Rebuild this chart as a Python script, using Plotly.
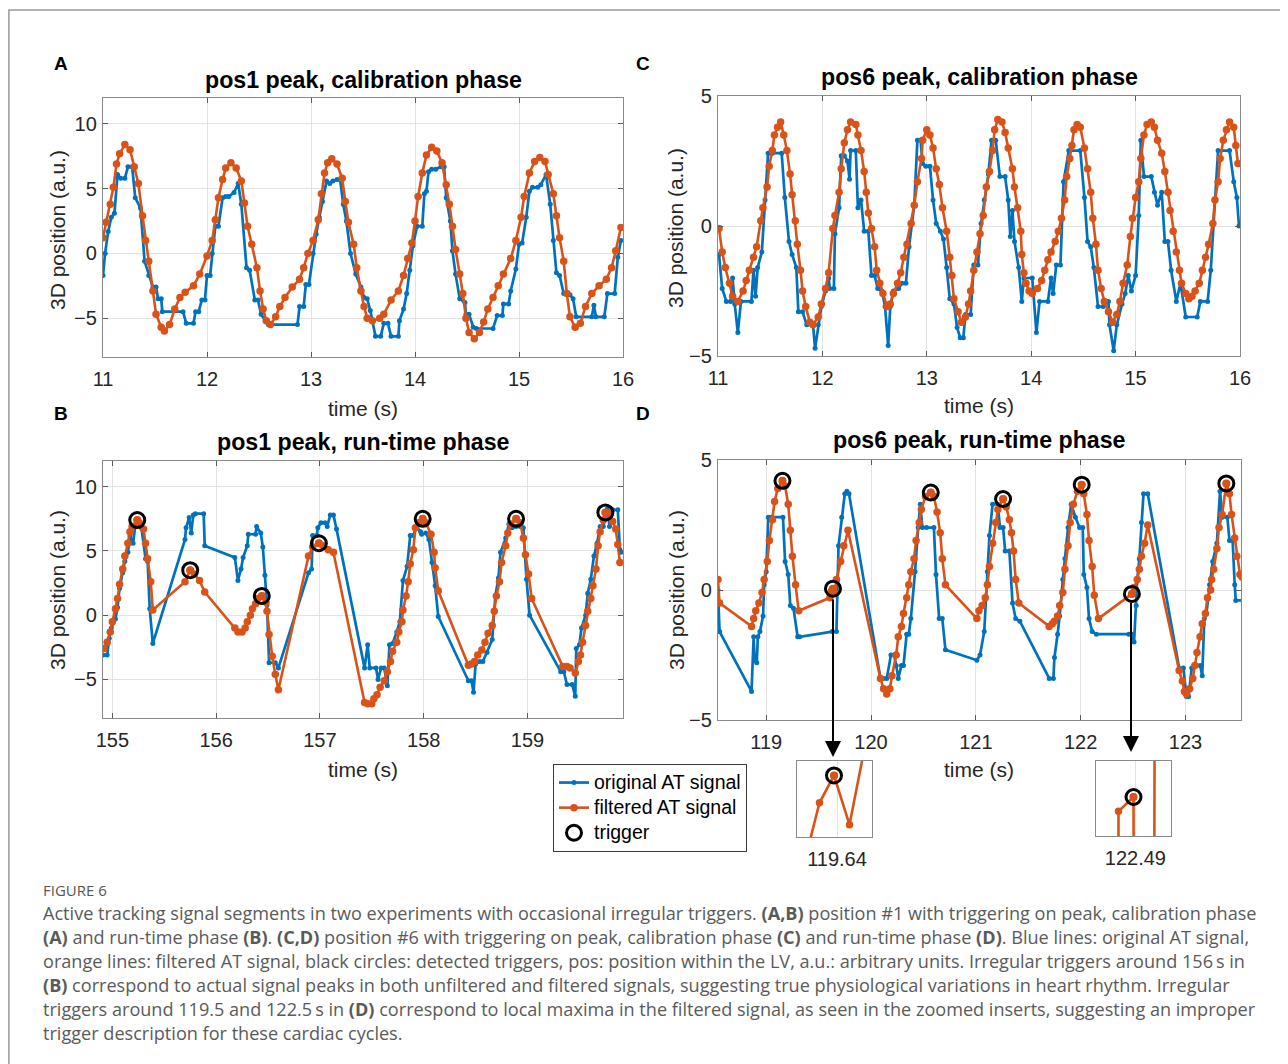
import plotly.graph_objects as go

W, H = 1288, 1064
OFF = 8  # the page adds an 8px body margin; positions below are reference pixels
BLUE = '#0072BD'
ORANGE = '#D95319'
FONT = 'Liberation Sans, Arial, sans-serif'
CAP_FONT = 'Open Sans, Lato, sans-serif'

# ---------------- DATA (time s, 3D position a.u.) ----------------
A_orig = [(11.00,-1.7),(11.02,0.0),(11.05,1.7),(11.08,2.8),(11.11,3.1),(11.14,6.1),(11.17,5.8),(11.21,5.8),(11.24,6.7),(11.28,6.7),(11.31,4.3),(11.36,3.5),(11.40,-0.6),(11.44,-1.7),(11.48,-2.6),(11.51,-2.6),(11.53,-3.5),(11.56,-3.5),(11.57,-4.5),(11.77,-4.5),(11.80,-5.4),(11.87,-5.4),(11.89,-4.5),(11.92,-4.5),(11.95,-3.6),(11.98,-3.6),(12.00,-1.7),(12.03,-1.7),(12.05,0.0),(12.08,2.1),(12.11,2.1),(12.15,4.3),(12.18,4.4),(12.21,4.4),(12.26,4.7),(12.30,5.4),(12.33,3.8),(12.38,-1.1),(12.41,-1.3),(12.46,-3.6),(12.49,-3.6),(12.52,-4.7),(12.56,-5.2),(12.59,-5.5),(12.87,-5.5),(12.89,-4.1),(12.93,-4.1),(12.95,-2.4),(12.98,-2.4),(13.02,0.0),(13.05,1.5),(13.08,2.8),(13.11,4.0),(13.15,5.6),(13.18,5.4),(13.21,5.6),(13.25,5.7),(13.28,5.7),(13.31,3.8),(13.34,2.5),(13.38,0.0),(13.43,-1.6),(13.48,-2.6),(13.51,-3.4),(13.54,-3.5),(13.57,-4.4),(13.62,-6.4),(13.67,-6.4),(13.70,-5.4),(13.74,-5.4),(13.77,-6.4),(13.84,-6.4),(13.85,-5.2),(13.89,-4.3),(13.92,-3.1),(13.95,-1.3),(13.98,0.6),(14.02,2.1),(14.07,2.1),(14.09,4.6),(14.11,4.8),(14.13,6.3),(14.16,6.5),(14.20,6.5),(14.25,6.7),(14.28,6.7),(14.30,4.3),(14.34,2.5),(14.36,0.2),(14.39,-1.6),(14.43,-3.5),(14.48,-3.8),(14.49,-4.7),(14.52,-4.7),(14.56,-5.7),(14.59,-5.8),(14.75,-5.8),(14.79,-4.8),(14.84,-4.8),(14.85,-3.9),(14.90,-3.9),(14.92,-2.9),(14.97,-1.2),(15.00,0.7),(15.03,0.8),(15.07,2.8),(15.10,4.8),(15.13,5.1),(15.18,5.1),(15.21,5.3),(15.26,6.1),(15.30,3.8),(15.33,1.0),(15.36,-1.5),(15.39,-1.7),(15.43,-3.1),(15.49,-3.2),(15.52,-3.5),(15.55,-4.9),(15.70,-4.9),(15.72,-4.0),(15.74,-4.9),(15.82,-4.9),(15.85,-3.1),(15.92,-3.1),(15.95,-0.3),(15.98,1.0)]

A_filt = [(11.00,1.2),(11.03,2.4),(11.07,3.8),(11.10,5.1),(11.13,6.9),(11.16,7.7),(11.21,8.4),(11.26,8.0),(11.30,6.7),(11.34,5.4),(11.38,2.9),(11.41,1.0),(11.44,-0.6),(11.48,-2.9),(11.51,-4.7),(11.56,-5.7),(11.59,-6.0),(11.64,-5.5),(11.69,-4.3),(11.74,-3.4),(11.79,-3.0),(11.87,-2.5),(11.93,-1.6),(12.00,-0.2),(12.05,1.0),(12.08,2.6),(12.11,4.3),(12.15,5.7),(12.18,6.6),(12.23,7.0),(12.28,6.6),(12.33,5.6),(12.36,3.9),(12.39,2.1),(12.43,0.7),(12.48,-1.1),(12.51,-2.9),(12.54,-4.3),(12.57,-5.2),(12.61,-5.5),(12.66,-4.9),(12.70,-4.1),(12.75,-3.4),(12.82,-2.6),(12.89,-2.0),(12.93,-1.1),(12.97,0.0),(13.02,1.0),(13.07,2.6),(13.10,4.6),(13.13,6.2),(13.16,7.0),(13.20,7.3),(13.25,6.9),(13.30,5.8),(13.33,4.0),(13.36,2.4),(13.41,0.7),(13.44,-1.1),(13.48,-2.9),(13.51,-4.1),(13.54,-5.0),(13.59,-5.2),(13.66,-5.0),(13.70,-4.7),(13.77,-3.6),(13.84,-2.9),(13.89,-1.7),(13.93,-0.4),(13.97,0.8),(14.00,2.5),(14.03,4.4),(14.07,6.2),(14.11,7.6),(14.16,8.2),(14.21,7.9),(14.26,7.0),(14.30,5.3),(14.33,3.8),(14.36,2.1),(14.39,0.3),(14.43,-1.6),(14.46,-3.1),(14.49,-5.0),(14.52,-6.1),(14.57,-6.6),(14.62,-6.1),(14.66,-5.3),(14.70,-4.3),(14.75,-3.4),(14.80,-2.5),(14.85,-1.6),(14.92,-0.4),(14.97,1.0),(15.02,2.8),(15.05,4.4),(15.10,6.2),(15.15,7.1),(15.20,7.4),(15.25,7.1),(15.28,6.1),(15.33,4.6),(15.36,2.9),(15.39,1.2),(15.43,-0.6),(15.46,-3.1),(15.49,-4.9),(15.54,-5.7),(15.59,-5.4),(15.64,-4.1),(15.70,-3.1),(15.77,-2.5),(15.84,-2.0),(15.89,-1.1),(15.93,0.2),(15.98,2.0)]

C_orig = [(11.01,-1.1),(11.04,-2.4),(11.08,-2.9),(11.12,-2.9),(11.14,-2.0),(11.16,-3.0),(11.19,-4.1),(11.22,-2.9),(11.32,-2.9),(11.34,-1.7),(11.36,-2.7),(11.38,-1.6),(11.42,-1.0),(11.45,1.0),(11.48,2.8),(11.52,2.8),(11.61,2.8),(11.64,1.1),(11.68,-0.6),(11.71,-1.1),(11.75,-1.6),(11.77,-3.3),(11.81,-3.3),(11.85,-3.8),(11.91,-3.8),(11.93,-4.7),(11.96,-3.8),(11.99,-3.1),(12.03,-2.5),(12.06,-2.0),(12.07,-2.4),(12.11,-2.4),(12.12,-0.3),(12.16,0.7),(12.18,2.7),(12.21,2.7),(12.24,2.5),(12.26,1.8),(12.27,2.9),(12.32,2.9),(12.34,0.7),(12.37,1.0),(12.40,-0.2),(12.44,-0.2),(12.47,-1.9),(12.50,-1.9),(12.53,-2.4),(12.57,-2.5),(12.60,-3.1),(12.63,-4.6),(12.65,-3.1),(12.68,-2.5),(12.73,-2.4),(12.76,-2.2),(12.80,-2.2),(12.83,-0.8),(12.88,0.8),(12.91,3.3),(12.94,3.3),(12.96,2.4),(12.99,2.3),(13.03,2.3),(13.06,1.0),(13.09,0.1),(13.13,-0.2),(13.16,-0.5),(13.19,-1.6),(13.22,-2.8),(13.26,-3.0),(13.29,-3.9),(13.32,-4.3),(13.35,-4.3),(13.37,-3.4),(13.42,-3.4),(13.45,-1.5),(13.49,-1.5),(13.52,0.1),(13.55,1.0),(13.59,2.0),(13.62,3.3),(13.66,3.3),(13.70,1.9),(13.75,1.9),(13.78,1.0),(13.80,-0.4),(13.82,0.6),(13.84,-0.6),(13.88,-1.6),(13.91,-2.9),(13.93,-2.0),(14.01,-2.0),(14.05,-4.1),(14.08,-2.9),(14.16,-2.9),(14.19,-2.0),(14.21,-2.6),(14.24,-1.5),(14.28,-1.5),(14.31,1.7),(14.36,2.9),(14.47,2.9),(14.51,1.1),(14.54,-0.6),(14.57,-0.8),(14.60,-1.6),(14.64,-3.1),(14.69,-3.1),(14.74,-2.9),(14.75,-3.8),(14.79,-4.8),(14.82,-3.8),(14.87,-3.0),(14.90,-2.6),(14.93,-1.9),(14.96,-2.5),(15.00,-1.9),(15.03,0.4),(15.05,3.3),(15.08,1.9),(15.15,1.9),(15.18,1.3),(15.21,0.8),(15.25,1.3),(15.28,-0.6),(15.31,-0.6),(15.34,-1.7),(15.39,-2.9),(15.43,-2.2),(15.48,-3.5),(15.59,-3.5),(15.62,-2.9),(15.69,-2.9),(15.72,-1.7),(15.76,1.0),(15.79,2.9),(15.90,2.9),(15.94,1.7),(15.97,1.1),(15.99,0.0)]

C_filt = [(11.01,-0.1),(11.04,-1.0),(11.07,-1.6),(11.11,-2.2),(11.14,-2.7),(11.19,-2.9),(11.24,-2.5),(11.27,-2.1),(11.30,-1.7),(11.34,-1.2),(11.37,-0.8),(11.41,0.2),(11.43,0.7),(11.47,1.5),(11.49,2.3),(11.52,2.9),(11.54,3.5),(11.57,3.8),(11.60,4.0),(11.63,3.5),(11.66,2.9),(11.69,2.0),(11.71,1.2),(11.74,0.2),(11.76,-0.7),(11.79,-1.7),(11.81,-2.5),(11.84,-3.1),(11.88,-3.7),(11.91,-3.8),(11.96,-3.5),(11.99,-3.0),(12.03,-2.4),(12.06,-1.8),(12.10,-0.1),(12.12,0.4),(12.16,1.3),(12.18,2.2),(12.21,3.2),(12.24,3.7),(12.27,4.0),(12.32,3.9),(12.34,3.5),(12.37,2.9),(12.40,2.1),(12.42,1.3),(12.44,0.5),(12.47,-0.1),(12.50,-0.8),(12.52,-1.7),(12.55,-2.2),(12.58,-2.6),(12.62,-3.1),(12.65,-3.0),(12.68,-2.6),(12.72,-2.2),(12.75,-1.8),(12.78,-1.2),(12.81,-0.7),(12.85,0.1),(12.88,0.8),(12.91,1.7),(12.95,2.6),(12.96,3.3),(13.00,3.7),(13.03,3.5),(13.06,3.0),(13.09,2.2),(13.12,1.6),(13.15,0.7),(13.19,-0.2),(13.22,-1.2),(13.24,-1.9),(13.26,-2.8),(13.30,-3.3),(13.33,-3.7),(13.37,-3.5),(13.40,-3.0),(13.42,-2.5),(13.45,-1.7),(13.48,-1.0),(13.51,-0.3),(13.54,0.4),(13.57,1.5),(13.60,2.1),(13.63,2.9),(13.65,3.7),(13.68,4.1),(13.72,4.0),(13.75,3.6),(13.78,3.0),(13.82,2.2),(13.84,1.5),(13.87,0.7),(13.90,-0.2),(13.91,-1.1),(13.93,-1.8),(13.95,-2.2),(13.98,-2.5),(14.01,-2.6),(14.06,-2.4),(14.10,-2.1),(14.13,-1.7),(14.16,-1.3),(14.19,-1.0),(14.23,-0.6),(14.26,-0.2),(14.29,0.3),(14.32,1.0),(14.34,1.9),(14.37,2.6),(14.39,3.1),(14.41,3.7),(14.44,3.9),(14.47,3.8),(14.51,3.0),(14.54,2.2),(14.57,1.3),(14.59,0.3),(14.62,-0.7),(14.64,-1.7),(14.67,-2.4),(14.70,-2.9),(14.74,-3.3),(14.78,-3.7),(14.82,-3.4),(14.85,-2.9),(14.88,-2.2),(14.92,-1.5),(14.95,-0.4),(14.97,0.3),(15.00,1.1),(15.03,1.7),(15.05,2.6),(15.08,3.5),(15.11,3.9),(15.15,4.0),(15.18,3.8),(15.21,3.3),(15.25,2.8),(15.28,2.1),(15.31,1.3),(15.33,0.6),(15.36,-0.2),(15.39,-1.0),(15.42,-1.7),(15.44,-2.2),(15.48,-2.6),(15.51,-2.8),(15.54,-2.7),(15.57,-2.5),(15.61,-2.2),(15.64,-1.7),(15.67,-1.2),(15.70,-0.7),(15.74,0.1),(15.76,1.0),(15.79,1.7),(15.81,2.6),(15.84,3.3),(15.87,3.7),(15.90,4.0),(15.94,3.8),(15.96,3.1),(15.98,2.4)]

B_orig = [(154.91,-3.1),(154.95,-3.1),(154.97,-1.8),(154.99,-1.0),(155.03,-0.3),(155.05,0.6),(155.07,2.1),(155.10,3.3),(155.12,4.2),(155.15,4.9),(155.17,6.2),(155.20,5.6),(155.22,6.9),(155.25,7.2),(155.28,6.8),(155.32,4.4),(155.34,4.2),(155.36,0.5),(155.39,-2.2),(155.70,5.9),(155.71,6.8),(155.74,7.6),(155.76,6.4),(155.78,7.8),(155.80,7.9),(155.88,7.9),(155.89,5.4),(156.18,4.5),(156.21,2.7),(156.24,3.6),(156.26,4.5),(156.30,5.4),(156.31,6.3),(156.38,6.3),(156.39,6.9),(156.43,6.4),(156.45,5.3),(156.47,3.1),(156.49,0.8),(156.51,-3.7),(156.57,-3.7),(156.60,-4.1),(156.89,3.3),(156.92,3.6),(156.93,6.2),(156.97,6.2),(156.98,6.8),(157.01,7.2),(157.05,7.2),(157.07,6.9),(157.10,7.8),(157.13,7.8),(157.16,6.7),(157.43,-4.1),(157.46,-2.3),(157.48,-4.1),(157.54,-4.1),(157.56,-5.0),(157.59,-4.1),(157.62,-4.1),(157.65,-5.5),(157.67,-2.3),(157.70,-2.2),(157.74,-1.3),(157.77,-0.5),(157.80,2.7),(157.84,3.8),(157.87,6.2),(157.90,6.2),(157.93,6.9),(157.97,6.5),(157.98,6.3),(158.02,6.4),(158.05,5.9),(158.08,4.1),(158.11,2.3),(158.14,-0.1),(158.43,-5.1),(158.46,-5.1),(158.48,-6.0),(158.50,-3.8),(158.54,-3.6),(158.57,-3.6),(158.61,-2.9),(158.66,-1.9),(158.69,1.5),(158.72,2.9),(158.74,4.9),(158.79,6.0),(158.82,7.1),(158.85,6.8),(158.89,6.9),(158.93,6.9),(158.96,6.8),(158.99,2.8),(159.02,0.0),(159.32,-4.4),(159.35,-4.4),(159.38,-5.4),(159.43,-5.4),(159.46,-6.3),(159.47,-2.6),(159.50,-2.3),(159.52,-1.0),(159.56,0.0),(159.58,1.7),(159.61,2.8),(159.64,4.6),(159.67,5.6),(159.70,6.9),(159.73,6.9),(159.77,8.3),(159.79,6.9),(159.82,8.2),(159.87,8.2),(159.89,5.1),(159.90,4.9)]

B_filt = [(154.92,-2.6),(154.95,-2.1),(154.98,-1.3),(155.00,-0.5),(155.03,0.5),(155.05,1.3),(155.07,2.4),(155.10,3.6),(155.12,4.6),(155.15,5.6),(155.17,6.5),(155.19,6.9),(155.24,7.4),(155.26,7.2),(155.30,6.7),(155.32,5.6),(155.34,4.4),(155.37,2.6),(155.39,0.4),(155.70,2.6),(155.75,3.5),(155.79,3.2),(155.84,2.7),(155.89,1.8),(156.18,-1.0),(156.21,-1.3),(156.25,-1.3),(156.28,-1.0),(156.30,-0.5),(156.33,0.0),(156.35,0.5),(156.38,0.9),(156.40,1.3),(156.44,1.5),(156.48,1.0),(156.49,0.3),(156.51,-1.5),(156.54,-3.2),(156.57,-4.6),(156.60,-5.8),(156.89,4.6),(156.93,5.3),(156.99,5.6),(157.03,5.4),(157.08,5.1),(157.13,4.9),(157.43,-6.8),(157.46,-6.9),(157.50,-6.9),(157.52,-6.5),(157.55,-6.2),(157.58,-5.6),(157.62,-5.1),(157.65,-4.4),(157.68,-3.6),(157.70,-2.8),(157.74,-2.1),(157.76,-1.3),(157.79,-0.5),(157.80,0.4),(157.83,1.5),(157.85,2.6),(157.87,4.0),(157.90,5.1),(157.92,6.8),(157.95,7.2),(157.99,7.5),(158.02,7.2),(158.07,6.3),(158.10,4.9),(158.11,3.7),(158.14,1.9),(158.43,-3.9),(158.46,-3.8),(158.49,-3.6),(158.52,-3.1),(158.56,-2.7),(158.59,-2.1),(158.62,-1.4),(158.66,-0.8),(158.68,0.3),(158.70,1.5),(158.73,2.6),(158.75,4.1),(158.79,5.4),(158.81,6.4),(158.84,7.1),(158.89,7.5),(158.93,7.2),(158.96,6.0),(158.98,4.7),(159.01,3.2),(159.04,1.3),(159.34,-4.0),(159.38,-4.0),(159.41,-4.1),(159.46,-4.5),(159.49,-3.6),(159.51,-3.1),(159.53,-2.1),(159.56,-0.8),(159.58,0.3),(159.61,1.3),(159.63,2.3),(159.66,3.6),(159.68,5.4),(159.70,6.5),(159.73,7.4),(159.75,8.0),(159.79,7.9),(159.82,7.3),(159.85,6.7),(159.87,5.5),(159.89,4.1)]

B_trig = [(155.24,7.4),(155.75,3.5),(156.44,1.5),(156.99,5.6),(157.99,7.5),(158.89,7.5),(159.75,8.0)]

D_orig = [(118.54,0.0),(118.555,-1.6),(118.86,-3.9),(118.88,-1.8),(118.89,-2.7),(118.91,-2.8),(118.92,-1.8),(118.94,-1.6),(118.97,-1.0),(118.98,0.2),(119.00,0.7),(119.02,2.8),(119.05,2.8),(119.16,2.8),(119.18,1.1),(119.21,0.6),(119.23,-0.6),(119.26,-0.7),(119.30,-1.8),(119.32,-1.8),(119.63,-1.6),(119.67,-1.6),(119.69,1.7),(119.72,2.8),(119.75,3.7),(119.77,3.8),(119.79,3.7),(120.09,-3.4),(120.12,-3.4),(120.15,-3.4),(120.19,-2.5),(120.22,-2.5),(120.24,-2.9),(120.26,-3.4),(120.29,-2.9),(120.31,-2.9),(120.34,-1.7),(120.36,-1.7),(120.38,-1.1),(120.42,0.7),(120.45,2.4),(120.47,3.3),(120.49,2.4),(120.53,2.4),(120.60,2.4),(120.62,0.6),(120.65,-1.1),(120.68,-1.1),(120.71,-2.3),(121.01,-2.7),(121.04,-2.5),(121.08,-1.6),(121.11,0.7),(121.13,2.1),(121.16,3.3),(121.21,3.3),(121.23,2.4),(121.26,2.4),(121.28,1.5),(121.32,1.5),(121.35,-0.5),(121.38,-1.1),(121.42,-1.2),(121.70,-3.4),(121.74,-3.4),(121.75,-2.6),(121.78,-1.7),(121.80,-1.0),(121.83,0.4),(121.85,1.2),(121.88,2.4),(121.91,3.3),(121.95,2.8),(121.99,2.4),(122.02,2.4),(122.03,0.6),(122.06,0.1),(122.08,-1.1),(122.11,-1.6),(122.15,-1.7),(122.46,-1.7),(122.49,-1.7),(122.51,-2.0),(122.53,-0.6),(122.54,0.4),(122.56,1.2),(122.58,2.6),(122.60,3.7),(122.64,3.7),(122.94,-3.0),(122.98,-3.0),(123.01,-4.1),(123.03,-4.1),(123.06,-3.0),(123.09,-2.9),(123.14,-2.9),(123.16,-3.3),(123.18,-1.1),(123.20,-0.9),(123.23,0.2),(123.26,1.1),(123.30,1.8),(123.33,3.8),(123.35,2.8),(123.40,2.8),(123.42,1.9),(123.45,1.9),(123.47,0.2),(123.48,-0.4),(123.55,-0.4)]

D_filt = [(118.54,0.4),(118.555,-0.5),(118.86,-1.4),(118.88,-1.1),(118.90,-0.8),(118.93,-0.5),(118.96,-0.1),(118.98,0.4),(119.01,1.1),(119.03,1.9),(119.06,2.7),(119.08,3.4),(119.11,3.9),(119.155,4.2),(119.18,4.0),(119.21,3.3),(119.23,2.3),(119.25,1.3),(119.28,0.2),(119.31,-0.8),(119.607,-0.30),(119.6225,-0.04),(119.637,0.05),(119.6525,-0.11),(119.67,0.4),(119.71,1.1),(119.74,1.7),(119.78,2.3),(120.09,-3.4),(120.12,-3.8),(120.15,-4.0),(120.18,-3.8),(120.20,-3.3),(120.24,-2.5),(120.26,-1.8),(120.29,-1.4),(120.31,-0.9),(120.34,-0.3),(120.36,0.2),(120.38,0.7),(120.41,1.2),(120.43,1.9),(120.46,2.6),(120.48,3.1),(120.52,3.6),(120.57,3.75),(120.60,3.6),(120.63,3.0),(120.66,2.2),(120.68,1.2),(120.71,0.2),(121.01,-1.1),(121.03,-0.8),(121.06,-0.6),(121.09,-0.3),(121.11,0.2),(121.13,0.9),(121.16,1.8),(121.19,2.6),(121.21,3.1),(121.26,3.5),(121.29,3.2),(121.32,2.7),(121.34,2.2),(121.36,1.5),(121.38,0.4),(121.41,-0.5),(121.70,-1.4),(121.73,-1.3),(121.75,-1.2),(121.78,-1.0),(121.80,-0.6),(121.83,-0.1),(121.85,0.8),(121.88,1.7),(121.90,2.6),(121.93,3.3),(121.97,3.8),(122.01,4.05),(122.03,3.7),(122.06,2.9),(122.08,1.9),(122.11,0.9),(122.13,-0.2),(122.17,-1.1),(122.489,-0.15),(122.51,0.1),(122.54,0.4),(122.56,0.8),(122.58,1.3),(122.61,1.8),(122.64,2.5),(122.94,-3.1),(122.97,-3.5),(122.99,-3.9),(123.01,-4.0),(123.04,-3.8),(123.07,-3.4),(123.09,-2.9),(123.11,-2.4),(123.14,-1.8),(123.16,-1.3),(123.19,-0.9),(123.21,-0.3),(123.24,0.0),(123.25,0.4),(123.27,0.8),(123.30,1.6),(123.32,2.4),(123.35,2.9),(123.39,4.1),(123.42,3.7),(123.44,2.9),(123.47,2.0),(123.49,1.3),(123.52,0.6),(123.54,0.5)]

D_trig = [(119.155,4.2),(119.637,0.05),(120.57,3.75),(121.26,3.5),(122.01,4.05),(122.489,-0.15),(123.39,4.1)]

# zoomed inserts (filtered signal around the two irregular triggers)
INS1_filt = [(119.610,-0.20),(119.6225,-0.0375),(119.637,0.0525),(119.6525,-0.11),(119.668,0.15)]
INS1_trig = [(119.637,0.0525)]
INS2_filt = [(122.481,-0.25),(122.481,-0.167),(122.489,-0.148),(122.4891,-0.25),(122.5001,-0.25),(122.5003,0.0)]
INS2_trig = [(122.489,-0.148)]

TITLES = ['pos1 peak, calibration phase', 'pos6 peak, calibration phase',
          'pos1 peak, run-time phase', 'pos6 peak, run-time phase']
LETTERS = ['A', 'C', 'B', 'D']
XLABEL = 'time (s)'
YLABEL = '3D position (a.u.)'
LEGEND_NAMES = ['original AT signal', 'filtered AT signal', 'trigger']
INSET_TICKS = ['119.64', '122.49']

CAPTION_HEAD = 'FIGURE 6'
CAPTION = [
    'Active tracking signal segments in two experiments with occasional irregular triggers. <b>(A,B)</b> position #1 with triggering on peak, calibration phase',
    '<b>(A)</b> and run-time phase <b>(B)</b>. <b>(C,D)</b> position #6 with triggering on peak, calibration phase <b>(C)</b> and run-time phase <b>(D)</b>. Blue lines: original AT signal,',
    'orange lines: filtered AT signal, black circles: detected triggers, pos: position within the LV, a.u.: arbitrary units. Irregular triggers around 156\u2009s in',
    '<b>(B)</b> correspond to actual signal peaks in both unfiltered and filtered signals, suggesting true physiological variations in heart rhythm. Irregular',
    'triggers around 119.5 and 122.5\u2009s in <b>(D)</b> correspond to local maxima in the filtered signal, as seen in the zoomed inserts, suggesting an improper',
    'trigger description for these cardiac cycles.',
]


def unz(pairs):
    return [p[0] for p in pairs], [p[1] for p in pairs]


def fx(p):
    return (p - OFF) / W


def fy(p):
    return 1 - (p - OFF) / H


fig = go.Figure()


def lname(s):
    return '<span style="font-size:19.5px">' + s + '</span>'


def add_series(xa, ya, orig, filt, trig=None, legend=False):
    if orig is not None:
        t, v = unz(orig)
        fig.add_trace(go.Scatter(x=t, y=v, mode='lines+markers', xaxis=xa, yaxis=ya,
                                 line=dict(color=BLUE, width=2.7), marker=dict(size=5, color=BLUE),
                                 name=lname(LEGEND_NAMES[0]), showlegend=legend, legendrank=1))
    t, v = unz(filt)
    fig.add_trace(go.Scatter(x=t, y=v, mode='lines+markers', xaxis=xa, yaxis=ya,
                             line=dict(color=ORANGE, width=2.6), marker=dict(size=7.5, color=ORANGE),
                             name=lname(LEGEND_NAMES[1]), showlegend=legend, legendrank=2))
    if trig is not None:
        t, v = unz(trig)
        fig.add_trace(go.Scatter(x=t, y=v, mode='markers', xaxis=xa, yaxis=ya,
                                 marker=dict(symbol='circle', size=8, color=ORANGE),
                                 showlegend=False, hoverinfo='skip'))
        fig.add_trace(go.Scatter(x=t, y=v, mode='markers', xaxis=xa, yaxis=ya,
                                 marker=dict(symbol='circle-open', size=15, color='black',
                                             line=dict(width=3, color='black')),
                                 name=lname(LEGEND_NAMES[2]), showlegend=legend, legendrank=3))


add_series('x', 'y', A_orig, A_filt)
add_series('x2', 'y2', C_orig, C_filt)
add_series('x3', 'y3', B_orig, B_filt, B_trig, legend=True)
add_series('x4', 'y4', D_orig, D_filt, D_trig)
add_series('x5', 'y5', None, INS1_filt, INS1_trig)
add_series('x6', 'y6', None, INS2_filt, INS2_trig)

TICKFONT = dict(family=FONT, size=20, color='#262626')


def axis(domain, rng, dtick=None, anchor=None, **kw):
    d = dict(domain=domain, range=rng, showline=True, linecolor='#8a8a8a', linewidth=1.3,
             mirror='ticks', ticks='inside', ticklen=5, tickcolor='#5a5a5a', tickwidth=1,
             showgrid=True, gridcolor='#E3E3E3', gridwidth=1, zeroline=False, automargin=False,
             tickfont=TICKFONT, fixedrange=True, anchor=anchor)
    if dtick is not None:
        d.update(dtick=dtick, tick0=0)
    d.update(kw)
    return d


# panel pixel boxes (left, right, top, bottom) in reference pixels
boxA = (103, 623, 98, 357)
boxC = (718, 1240, 96, 356)
boxB = (103, 623, 461, 718)
boxD = (718, 1241, 460, 720)
boxI1 = (797, 872, 761, 837)
boxI2 = (1096, 1171, 761, 836)


def dom(b):
    return [fx(b[0]), fx(b[1])], [fy(b[3]), fy(b[2])]


XST, YST = 4, 1
layout_axes = {}
for i, (b, xr, yr, yd) in enumerate([(boxA, [11, 16], [-8, 12], 5), (boxC, [11, 16], [-5, 5], 5),
                                     (boxB, [154.91, 159.92], [-8, 12], 5), (boxD, [118.54, 123.53], [-5, 5], 5)]):
    n = '' if i == 0 else str(i + 1)
    xd, ydm = dom(b)
    layout_axes['xaxis' + n] = axis(xd, xr, 1, anchor='y' + n, ticklabelstandoff=XST)
    layout_axes['yaxis' + n] = axis(ydm, yr, yd, anchor='x' + n, ticklabelstandoff=YST)

for i, (b, xr, yr, tk) in enumerate([(boxI1, [119.60, 119.675], [-0.15, 0.10], 119.64),
                                      (boxI2, [122.469, 122.509], [-0.20, -0.10], 122.49)]):
    n = str(i + 5)
    xd, ydm = dom(b)
    layout_axes['xaxis' + n] = axis(xd, xr, None, anchor='y' + n, tickvals=[tk], ticktext=[INSET_TICKS[i]],
                                    ticks='', ticklabelstandoff=XST)
    layout_axes['yaxis' + n] = axis(ydm, yr, None, anchor='x' + n, showticklabels=False,
                                    showgrid=False, ticks='')

ann = []
for txt, cx, cy in zip(TITLES, [363, 979, 363, 979], [80, 77, 442, 440]):
    ann.append(dict(text='<b>' + txt + '</b>', x=fx(cx), y=fy(cy), xref='paper', yref='paper',
                    xanchor='center', yanchor='middle', showarrow=False,
                    font=dict(family=FONT, size=23.2, color='black')))
for txt, cx, cy in zip(LETTERS, [61, 643, 61, 643], [64, 64, 414, 414]):
    ann.append(dict(text='<b>' + txt + '</b>', x=fx(cx), y=fy(cy), xref='paper', yref='paper',
                    xanchor='center', yanchor='middle', showarrow=False,
                    font=dict(family=FONT, size=19, color='black')))
for cx, cy in [(363, 408), (979, 405), (363, 769), (979, 769)]:
    ann.append(dict(text=XLABEL, x=fx(cx), y=fy(cy), xref='paper', yref='paper',
                    xanchor='center', yanchor='middle', showarrow=False,
                    font=dict(family=FONT, size=21, color='#262626')))
for cx, cy in [(57, 230), (676, 228), (57, 590), (676, 590)]:
    ann.append(dict(text=YLABEL, x=fx(cx), y=fy(cy), xref='paper', yref='paper', textangle=-90,
                    xanchor='center', yanchor='middle', showarrow=False,
                    font=dict(family=FONT, size=21, color='#262626')))
for cx, y_tail, y_head in [(833, 598, 757), (1131, 601, 752)]:
    ann.append(dict(text='', x=fx(cx), y=fy(y_head), xref='paper', yref='paper',
                    ax=0, ay=-(y_head - y_tail), axref='pixel', ayref='pixel',
                    showarrow=True, arrowhead=2, arrowsize=1.6, arrowwidth=2, arrowcolor='black',
                    standoff=0, startstandoff=0))
ann.append(dict(text=CAPTION_HEAD, x=fx(41), y=fy(890), xref='paper', yref='paper', xanchor='left',
                yanchor='middle', showarrow=False, font=dict(family=CAP_FONT, size=15, color='#555555')))
for k, line in enumerate(CAPTION):
    ann.append(dict(text=line, x=fx(41), y=fy(913 + 24 * k), xref='paper', yref='paper', xanchor='left',
                    yanchor='middle', showarrow=False, font=dict(family=CAP_FONT, size=18.1, color='#5a5a5a')))

fig.update_layout(
    width=W, height=H, margin=dict(l=0, r=0, t=0, b=0, autoexpand=False),
    paper_bgcolor='white', plot_bgcolor='white',
    annotations=ann,
    shapes=[dict(type='rect', xref='paper', yref='paper', x0=fx(8.9), x1=1.02, y0=-0.02, y1=fy(10),
                 line=dict(color='#9a9a9a', width=1.5), fillcolor='rgba(0,0,0,0)', layer='below')],
    legend=dict(x=fx(553), y=fy(764), xanchor='left', yanchor='top', bgcolor='white',
                bordercolor='#3a3a3a', borderwidth=1, font=dict(family=FONT, size=17, color='black'),
                tracegroupgap=0, itemwidth=30, traceorder='normal'),
    showlegend=True,
    **layout_axes,
)

fig.write_html('out.html')
